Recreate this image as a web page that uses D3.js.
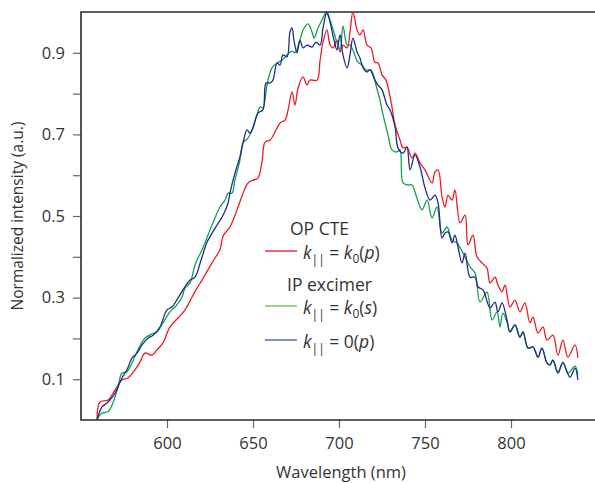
<!DOCTYPE html>
<html>
<head>
<meta charset="utf-8">
<script src="https://cdn.jsdelivr.net/npm/d3@7"></script>
<style>
  body { margin: 0; background: #fff; }
  text { font-family: "Open Sans", "Noto Sans", sans-serif; fill: #333; }
</style>
</head>
<body>
<div id="chart"></div>
<script>
// [wavelength (nm), normalized intensity]
const opCte = [
  [559.3,0.000],[561.0,0.044],[565.7,0.049],[569.8,0.074],[573.8,0.098],[577.3,0.103],
  [581.4,0.123],[584.3,0.142],[587.2,0.164],[591.3,0.159],[594.2,0.172],[597.7,0.189],
  [601.7,0.228],[606.4,0.250],[610.5,0.270],[614.5,0.301],[616.9,0.319],[620.3,0.343],
  [623.8,0.368],[627.9,0.397],[630.8,0.417],[632.6,0.451],[636.6,0.473],[640.7,0.515],
  [644.2,0.556],[647.1,0.581],[650.0,0.588],[652.9,0.593],[655.2,0.632],[657.0,0.681],
  [659.9,0.686],[663.4,0.711],[665.7,0.728],[668.6,0.735],[670.4,0.760],[672.7,0.804],
  [674.4,0.772],[676.2,0.814],[679.1,0.841],[681.4,0.821],[683.1,0.833],[687.2,0.833],
  [689.0,0.882],[690.7,0.926],[693.0,0.956],[694.8,0.919],[696.5,0.912],[698.8,0.931],
  [700.6,0.902],[702.3,0.919],[704.7,0.912],[706.4,0.951],[708.1,1.000],[710.5,0.956],
  [712.2,0.944],[714.0,0.956],[716.3,0.919],[718.6,0.912],[720.9,0.877],[722.7,0.875],
  [725.0,0.846],[727.3,0.833],[729.7,0.792],[730.8,0.767],[732.6,0.723],[735.5,0.686],
  [737.2,0.667],[739.5,0.669],[742.4,0.642],[744.2,0.654],[747.1,0.630],[750.0,0.613],
  [754.1,0.581],[755.8,0.608],[757.6,0.613],[759.9,0.547],[761.6,0.522],[763.4,0.551],
  [765.7,0.539],[767.4,0.564],[770.4,0.483],[773.3,0.502],[775.0,0.429],[777.9,0.453],
  [780.2,0.400],[783.1,0.385],[786.0,0.373],[787.8,0.336],[790.7,0.350],[792.4,0.331],
  [794.8,0.314],[796.5,0.331],[799.4,0.277],[802.3,0.294],[805.2,0.265],[808.1,0.287],
  [811.0,0.238],[812.8,0.252],[815.7,0.213],[818.6,0.228],[820.9,0.196],[824.4,0.208],
  [827.3,0.159],[830.2,0.196],[833.1,0.154],[837.2,0.184],[838.9,0.152]
];

const ipExcimerS = [
  [559.3,0.000],[562.2,0.017],[565.7,0.020],[568.6,0.042],[571.5,0.081],[573.8,0.115],
  [576.7,0.118],[579.7,0.140],[583.1,0.172],[587.2,0.201],[591.3,0.211],[594.2,0.216],
  [597.7,0.238],[601.7,0.265],[604.7,0.277],[608.7,0.301],[610.5,0.324],[613.4,0.336],
  [616.3,0.380],[620.9,0.422],[625.0,0.466],[626.7,0.483],[630.8,0.522],[633.7,0.539],
  [635.5,0.556],[637.8,0.556],[639.5,0.588],[642.4,0.637],[644.2,0.679],[647.1,0.691],
  [649.4,0.711],[652.3,0.748],[654.1,0.767],[655.8,0.765],[658.1,0.821],[661.0,0.863],
  [664.0,0.875],[666.9,0.882],[669.8,0.895],[672.7,0.904],[674.4,0.900],[677.3,0.931],
  [679.1,0.956],[682.0,0.971],[684.3,0.951],[685.5,0.936],[687.8,0.961],[690.1,0.980],
  [692.4,0.998],[694.8,0.980],[697.1,0.949],[700.6,0.907],[702.3,0.966],[704.7,0.919],
  [706.4,0.919],[708.1,0.907],[711.0,0.877],[713.4,0.870],[715.7,0.858],[718.6,0.858],
  [721.5,0.821],[723.8,0.784],[725.6,0.748],[728.5,0.699],[730.8,0.662],[733.7,0.657],
  [735.5,0.662],[737.2,0.581],[740.1,0.576],[742.4,0.576],[745.3,0.544],[748.3,0.515],
  [751.2,0.539],[754.1,0.495],[757.0,0.522],[759.9,0.458],[762.8,0.473],[765.7,0.441],
  [768.6,0.434],[772.1,0.409],[776.2,0.375],[779.1,0.360],[782.0,0.289],[786.0,0.314],
  [789.0,0.245],[791.9,0.265],[793.6,0.228],[795.3,0.262],[797.7,0.240],[799.4,0.216],
  [802.3,0.233],[805.2,0.203],[807.0,0.216],[809.9,0.176],[812.8,0.179],[815.7,0.154],
  [818.0,0.176],[820.9,0.140],[822.7,0.135],[824.4,0.147],[827.3,0.118],[830.2,0.142],
  [833.1,0.115],[837.2,0.132],[838.9,0.110]
];

const ipExcimerP = [
  [559.3,0.000],[562.2,0.032],[565.7,0.044],[569.8,0.066],[573.8,0.103],[576.7,0.123],
  [579.7,0.152],[582.6,0.164],[585.5,0.184],[589.0,0.201],[591.9,0.208],[595.9,0.228],
  [600.0,0.270],[602.9,0.277],[606.4,0.299],[609.3,0.319],[613.4,0.343],[616.3,0.350],
  [619.8,0.392],[623.3,0.436],[626.2,0.458],[629.1,0.478],[632.6,0.502],[635.5,0.532],
  [636.6,0.556],[639.5,0.605],[642.4,0.645],[644.2,0.679],[646.5,0.711],[648.3,0.703],
  [650.0,0.716],[652.9,0.752],[655.8,0.760],[657.6,0.826],[659.9,0.826],[661.6,0.833],
  [664.0,0.875],[665.7,0.870],[667.4,0.895],[669.8,0.890],[671.5,0.951],[672.7,0.961],
  [673.8,0.931],[675.6,0.900],[677.3,0.931],[679.1,0.912],[681.4,0.919],[684.3,0.914],
  [686.6,0.926],[689.0,0.919],[690.7,0.961],[693.0,1.000],[694.8,0.975],[697.1,0.931],
  [698.8,0.907],[700.6,0.944],[702.3,0.895],[704.7,0.863],[706.4,0.895],[708.1,0.936],
  [710.5,0.902],[712.2,0.887],[714.0,0.863],[716.3,0.853],[718.0,0.858],[720.9,0.833],
  [722.7,0.821],[725.0,0.809],[727.9,0.772],[729.7,0.760],[732.6,0.718],[734.3,0.667],
  [737.2,0.654],[739.5,0.669],[741.3,0.613],[744.2,0.650],[747.1,0.620],[750.0,0.569],
  [752.9,0.539],[755.8,0.551],[757.6,0.532],[759.9,0.446],[761.6,0.458],[763.4,0.461],
  [765.7,0.434],[767.4,0.453],[769.2,0.424],[771.5,0.385],[773.3,0.409],[776.2,0.350],
  [779.1,0.350],[780.8,0.326],[783.7,0.319],[787.8,0.275],[790.7,0.289],[792.4,0.265],
  [794.8,0.287],[797.7,0.245],[799.4,0.216],[802.3,0.233],[805.2,0.203],[807.0,0.216],
  [809.9,0.176],[812.8,0.179],[815.7,0.154],[818.0,0.176],[820.9,0.140],[822.7,0.135],
  [824.4,0.147],[827.3,0.115],[830.2,0.140],[834.3,0.105],[837.2,0.127],[838.9,0.098]
];

const xTicks = [600, 650, 700, 750, 800];
const yTicks = [0.1, 0.2, 0.3, 0.4, 0.5, 0.6, 0.7, 0.8, 0.9];
const yLabelled = [0.1, 0.3, 0.5, 0.7, 0.9];

const width = 595, height = 483;
const margin = { top: 12, right: -2, bottom: 63, left: 81 };

const x = d3.scaleLinear().domain([550, 850]).range([margin.left, width - margin.right]);
const y = d3.scaleLinear().domain([0, 1]).range([height - margin.bottom, margin.top]);

const svg = d3.select("#chart").append("svg")
  .attr("width", width)
  .attr("height", height);

// axes
const xAxis = svg.append("g")
  .attr("transform", `translate(0,${y(0)})`)
  .call(d3.axisBottom(x).tickValues(xTicks).tickSize(8).tickPadding(9).tickFormat(d3.format("d")));
const yAxis = svg.append("g")
  .attr("transform", `translate(${x(550)},0)`)
  .call(d3.axisLeft(y).tickValues(yTicks).tickSize(8).tickPadding(8)
    .tickFormat(d => yLabelled.some(v => Math.abs(v - d) < 1e-9) ? d3.format(".1f")(d) : ""));

[xAxis, yAxis].forEach(g => {
  g.select(".domain").remove();
  g.selectAll(".tick line").attr("stroke", "#666").attr("stroke-width", 1.2);
  g.selectAll(".tick text").attr("font-size", 16.5).attr("fill", "#3a3a3a");
});

// frame
svg.append("path")
  .attr("d", `M${width},${y(1)}H${x(550)}V${y(0)}H${width}`)
  .attr("fill", "none")
  .attr("stroke", "#2a2a2a")
  .attr("stroke-width", 1.6);

// axis titles
svg.append("text")
  .attr("x", (x(550) + x(850)) / 2 + 2)
  .attr("y", 478)
  .attr("text-anchor", "middle")
  .attr("font-size", 16.5)
  .text("Wavelength (nm)");
svg.append("text")
  .attr("transform", `translate(23,${(y(0) + y(1)) / 2}) rotate(-90)`)
  .attr("text-anchor", "middle")
  .attr("font-size", 15.5)
  .text("Normalized intensity (a.u.)");

// spectra
const line = d3.line().x(d => x(d[0])).y(d => y(d[1])).curve(d3.curveCatmullRom.alpha(0.5));
const series = [
  { data: opCte, color: "#ec1c24" },
  { data: ipExcimerS, color: "#12a04a" },
  { data: ipExcimerP, color: "#1f2b8c" }
];
series.forEach(s => {
  svg.append("path")
    .datum(s.data)
    .attr("d", line)
    .attr("fill", "none")
    .attr("stroke", s.color)
    .attr("stroke-width", 1.3)
    .attr("stroke-linejoin", "round");
});

// legend
const legend = svg.append("g").attr("font-size", 17.5);
legend.append("text").attr("x", 290).attr("y", 235).text("OP CTE");
legend.append("text").attr("x", 287).attr("y", 291).text("IP excimer");

const entries = [
  { y: 251, color: "#e8353b", sub0: true, arg: "p" },
  { y: 306, color: "#7cc56c", sub0: true, arg: "s" },
  { y: 340, color: "#5868b4", sub0: false, arg: "p" }
];
entries.forEach(e => {
  legend.append("line")
    .attr("x1", 265).attr("x2", 297)
    .attr("y1", e.y).attr("y2", e.y)
    .attr("stroke", e.color).attr("stroke-width", 1.5);
  const t = legend.append("text").attr("x", 303).attr("y", e.y + 8);
  t.append("tspan").attr("font-style", "italic").text("k");
  t.append("tspan").attr("font-size", 12).attr("dy", 5).text("||");
  t.append("tspan").attr("dy", -5).text(" = ");
  if (e.sub0) {
    t.append("tspan").attr("font-style", "italic").text("k");
    t.append("tspan").attr("font-size", 12).attr("dy", 4).text("0");
    t.append("tspan").attr("dy", -4).text("(");
  } else {
    t.append("tspan").text("0(");
  }
  t.append("tspan").attr("font-style", "italic").text(e.arg);
  t.append("tspan").text(")");
});
</script>
</body>
</html>
